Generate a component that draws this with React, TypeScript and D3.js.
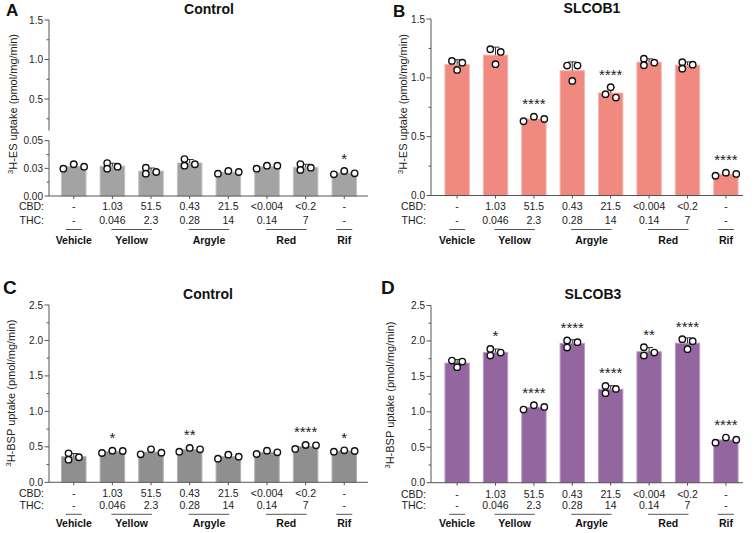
import React from "react";
import * as d3 from "d3";

// ---------- DATA ----------
const categories = ["Vehicle", "Yellow-1", "Yellow-2", "Argyle-1", "Argyle-2", "Red-1", "Red-2", "Rif"];
const cbdLabels = ["-", "1.03", "51.5", "0.43", "21.5", "<0.004", "<0.2", "-"];
const thcLabels = ["-", "0.046", "2.3", "0.28", "14", "0.14", "7", "-"];
const groupNames = ["Vehicle", "Yellow", "Argyle", "Red", "Rif"];
const groupSpans = [[0, 0], [1, 2], [3, 4], [5, 6], [7, 7]];

// replicates (3 per condition)
const esControl = [
  [0.0247, 0.0287, 0.0265], [0.0298, 0.0247, 0.0265], [0.0256, 0.0202, 0.0217], [0.0274, 0.0334, 0.0287],
  [0.0202, 0.0226, 0.0217], [0.0247, 0.0274, 0.0274], [0.0289, 0.0235, 0.0256], [0.0196, 0.0226, 0.0205],
];
const esSLCOB1 = [
  [1.144, 1.067, 1.129], [1.243, 1.116, 1.22], [0.631, 0.67, 0.65], [1.104, 0.974, 1.104],
  [0.832, 0.92, 0.861], [1.163, 1.107, 1.129], [1.133, 1.078, 1.112], [0.168, 0.194, 0.183],
];
const bspControl = [
  [0.409, 0.319, 0.353], [0.413, 0.446, 0.441], [0.395, 0.465, 0.418], [0.432, 0.484, 0.465],
  [0.333, 0.39, 0.361], [0.399, 0.446, 0.423], [0.47, 0.526, 0.522], [0.432, 0.451, 0.441],
];
const bspSLCOB3 = [
  [1.723, 1.63, 1.709], [1.888, 1.794, 1.836], [1.031, 1.093, 1.069], [2.006, 1.907, 1.983],
  [1.366, 1.263, 1.323], [1.794, 1.912, 1.836], [2.025, 1.884, 1.997], [0.565, 0.636, 0.607],
];

const starsA = ["", "", "", "", "", "", "", "*"];
const starsB = ["", "", "****", "", "****", "", "", "****"];
const starsC = ["", "*", "", "**", "", "", "****", "*"];
const starsD = ["", "*", "****", "****", "****", "**", "****", "****"];

// axis tick values
const ticksAUpperMajor = [0.5, 1.0, 1.5];
const ticksAUpperMinor = [0.25, 0.75, 1.25];
const ticksALowerMajor = [0, 0.025, 0.05];
const ticksALowerMinor = [0.0125, 0.0375];
const ticksBMajor = [0, 0.5, 1.0, 1.5];
const ticksBMinor = [0.25, 0.75, 1.25];
const ticksCDMajor = [0, 0.5, 1.0, 1.5, 2.0, 2.5];
const ticksCDMinor = [0.25, 0.75, 1.25, 1.75, 2.25];

// ---------- STYLE / LAYOUT ----------
const FONT = "'Liberation Sans', Arial, Helvetica, sans-serif";
const AXIS = "#555";
const TXT = "#222";

function swarmOffsets(ys: number[], step = 10.4, d1 = 5.5, d2 = 7.6) {
  const idx = ys.map((_, i) => i).sort((a, b) => ys[a] - ys[b]);
  const off = ys.map(() => 0);
  const placed: number[] = [];
  const cands = [0, step, -step, 2 * step, -2 * step];
  for (const i of idx) {
    for (const c of cands) {
      if (placed.every((j) => Math.hypot(off[j] - c, ys[j] - ys[i]) >= d1)) {
        off[i] = c;
        break;
      }
    }
    placed.push(i);
  }
  const sh = (Math.min(...off) + Math.max(...off)) / 2;
  for (let i = 0; i < off.length; i++) off[i] -= sh;
  for (const i of idx) {
    if (off[i] !== 0 && ys.every((_, j) => j === i || Math.hypot(off[j], ys[j] - ys[i]) >= d2)) off[i] = 0;
  }
  return off;
}

type Seg = { domain: number[]; range: number[]; major: number[]; minor: number[]; fmt: string };

type PanelCfg = {
  letter: string; letterX: number; letterY: number; letterSize: number;
  title: string; titleX: number; titleY: number;
  ylabel: string; ylabelX: number; ylabelY: number;
  axisX: number; xEnd: number; xRange: number[]; po: number;
  segs: Seg[];
  values: number[][]; stars: string[];
  fill: string; edge: string;
  cbdY: number; thcY: number; lineY: number; groupY: number;
};

function Panel({ p }: { p: PanelCfg }) {
  const x = d3.scaleBand<string>().domain(categories).range(p.xRange as [number, number]).paddingInner(0.34).paddingOuter(p.po);
  const bw = x.bandwidth();
  const segs = p.segs.map((s) => ({ ...s, scale: d3.scaleLinear().domain(s.domain).range(s.range) }));
  const y = segs[segs.length - 1].scale;
  const y0 = y(0);
  const cx = (i: number) => (x(categories[i]) as number) + bw / 2;

  return (
    <g fontFamily={FONT}>
      <text x={p.letterX} y={p.letterY} fontSize={p.letterSize} fontWeight="bold" fill="#111">{p.letter}</text>
      <text x={p.titleX} y={p.titleY} fontSize={14} fontWeight="bold" textAnchor="middle" fill="#111">{p.title}</text>
      <text transform={`translate(${p.ylabelX},${p.ylabelY}) rotate(-90)`} textAnchor="middle" fontSize={11} fill={TXT}>
        <tspan fontSize={7.5} dy={-4}>3</tspan>
        <tspan dy={4}>{p.ylabel}</tspan>
      </text>

      {/* bars */}
      {p.values.map((vals, i) => {
        const m = d3.mean(vals) as number;
        return (
          <rect key={"b" + i} x={(x(categories[i]) as number) + 0.5} y={y(m)} width={bw - 1} height={y0 - y(m)}
            fill={p.fill} stroke={p.edge} strokeWidth={1} />
        );
      })}

      {/* error bars (SD, upward) */}
      {p.values.map((vals, i) => {
        const m = d3.mean(vals) as number;
        const sd = d3.deviation(vals) as number;
        const c = cx(i);
        return (
          <g key={"e" + i} stroke="#333" strokeWidth={1}>
            <line x1={c} x2={c} y1={y(m)} y2={y(m + sd)} />
            <line x1={c - 4} x2={c + 4} y1={y(m + sd)} y2={y(m + sd)} />
          </g>
        );
      })}

      {/* points */}
      {p.values.map((vals, i) => {
        const ys = vals.map((v) => y(v));
        const off = swarmOffsets(ys);
        return (
          <g key={"p" + i}>
            {vals.map((v, k) => (
              <circle key={k} cx={cx(i) + off[k]} cy={ys[k]} r={3.2} fill="#fff" stroke="#111" strokeWidth={1.4} />
            ))}
          </g>
        );
      })}

      {/* stars */}
      {p.stars.map((s, i) => {
        if (!s) return null;
        const top = d3.min(p.values[i].map((v) => y(v))) as number;
        return (
          <text key={"s" + i} x={cx(i)} y={top - 7.5} fontSize={15} textAnchor="middle" fill={TXT}>{s}</text>
        );
      })}

      {/* y axis segments */}
      {segs.map((s, si) => (
        <g key={"ya" + si}>
          <line x1={p.axisX} x2={p.axisX} y1={s.range[0]} y2={s.range[1]} stroke={AXIS} strokeWidth={1} />
          {s.major.map((t) => (
            <g key={"M" + t}>
              <line x1={p.axisX - 4.5} x2={p.axisX} y1={s.scale(t)} y2={s.scale(t)} stroke={AXIS} strokeWidth={1} />
              <text x={p.axisX - 6} y={s.scale(t)} dy="0.35em" fontSize={10} textAnchor="end" fill={TXT}>
                {d3.format(s.fmt)(t)}
              </text>
            </g>
          ))}
          {s.minor.map((t) => (
            <line key={"m" + t} x1={p.axisX - 2.5} x2={p.axisX} y1={s.scale(t)} y2={s.scale(t)} stroke={AXIS} strokeWidth={1} />
          ))}
        </g>
      ))}

      {/* x axis */}
      <line x1={p.axisX} x2={p.xEnd} y1={y0} y2={y0} stroke={AXIS} strokeWidth={1} />
      {categories.map((c, i) => (
        <line key={"xt" + i} x1={cx(i)} x2={cx(i)} y1={y0} y2={y0 + 3} stroke={AXIS} strokeWidth={1} />
      ))}

      {/* table */}
      <text x={p.axisX - 5} y={p.cbdY} dy="0.35em" fontSize={10.5} textAnchor="end" fill={TXT}>CBD:</text>
      <text x={p.axisX - 5} y={p.thcY} dy="0.35em" fontSize={10.5} textAnchor="end" fill={TXT}>THC:</text>
      {cbdLabels.map((t, i) => (
        <text key={"cbd" + i} x={cx(i)} y={p.cbdY} dy="0.35em" fontSize={10.5} textAnchor="middle" fill={TXT}>{t}</text>
      ))}
      {thcLabels.map((t, i) => (
        <text key={"thc" + i} x={cx(i)} y={p.thcY} dy="0.35em" fontSize={10.5} textAnchor="middle" fill={TXT}>{t}</text>
      ))}
      {groupNames.map((g, gi) => {
        const [a, b] = groupSpans[gi];
        const x1 = a === b ? cx(a) - 8 : cx(a) - 1;
        const x2 = a === b ? cx(b) + 8 : cx(b) + 1;
        return (
          <g key={"g" + gi}>
            <line x1={x1} x2={x2} y1={p.lineY} y2={p.lineY} stroke={AXIS} strokeWidth={1} />
            <text x={(x1 + x2) / 2} y={p.groupY} dy="0.35em" fontSize={10.5} fontWeight="bold" textAnchor="middle" fill="#111">{g}</text>
          </g>
        );
      })}
    </g>
  );
}

const panels: PanelCfg[] = [
  {
    letter: "A", letterX: 6, letterY: 16, letterSize: 17,
    title: "Control", titleX: 209, titleY: 14,
    ylabel: "H-ES uptake (pmol/mg/min)", ylabelX: 17, ylabelY: 104,
    axisX: 49, xEnd: 368, xRange: [49, 369], po: 0.31,
    segs: [
      { domain: [0.1, 1.5], range: [130.6, 20], major: ticksAUpperMajor, minor: ticksAUpperMinor, fmt: ".1f" },
      { domain: [0, 0.05], range: [196, 140.7], major: ticksALowerMajor, minor: ticksALowerMinor, fmt: ".2f" },
    ],
    values: esControl, stars: starsA, fill: "#A3A3A3", edge: "#C2C2C2",
    cbdY: 206.8, thcY: 220.6, lineY: 229.5, groupY: 240,
  },
  {
    letter: "B", letterX: 393, letterY: 17, letterSize: 17,
    title: "SLCOB1", titleX: 592, titleY: 13,
    ylabel: "H-ES uptake (pmol/mg/min)", ylabelX: 407, ylabelY: 104,
    axisX: 431, xEnd: 743, xRange: [431, 752], po: 0.35,
    segs: [{ domain: [0, 1.5], range: [195.5, 19], major: ticksBMajor, minor: ticksBMinor, fmt: ".1f" }],
    values: esSLCOB1, stars: starsB, fill: "#F08A80", edge: "#F6B3AC",
    cbdY: 206.8, thcY: 220.6, lineY: 229.5, groupY: 240,
  },
  {
    letter: "C", letterX: 3, letterY: 294, letterSize: 19,
    title: "Control", titleX: 208, titleY: 299,
    ylabel: "H-BSP uptake (pmol/mg/min)", ylabelX: 15, ylabelY: 393,
    axisX: 49, xEnd: 368, xRange: [49, 369], po: 0.31,
    segs: [{ domain: [0, 2.5], range: [482.3, 305], major: ticksCDMajor, minor: ticksCDMinor, fmt: ".1f" }],
    values: bspControl, stars: starsC, fill: "#8F8F8F", edge: "#B2B2B2",
    cbdY: 493.8, thcY: 505.6, lineY: 514.3, groupY: 523.5,
  },
  {
    letter: "D", letterX: 381, letterY: 294, letterSize: 19,
    title: "SLCOB3", titleX: 593, titleY: 298.5,
    ylabel: "H-BSP uptake (pmol/mg/min)", ylabelX: 394, ylabelY: 395,
    axisX: 431, xEnd: 743, xRange: [431, 752], po: 0.35,
    segs: [{ domain: [0, 2.5], range: [482.7, 305.5], major: ticksCDMajor, minor: ticksCDMinor, fmt: ".1f" }],
    values: bspSLCOB3, stars: starsD, fill: "#9466A0", edge: "#B99CC4",
    cbdY: 494, thcY: 505.6, lineY: 514.3, groupY: 523.8,
  },
];

export default function App() {
  return (
    <svg width={754} height={533} viewBox="0 0 754 533"
      style={{ position: "absolute", left: 0, top: 0, display: "block", background: "#fff" }}>
      <rect x={0} y={0} width={754} height={533} fill="#fff" />
      {panels.map((p) => (
        <Panel key={p.letter} p={p} />
      ))}
    </svg>
  );
}
